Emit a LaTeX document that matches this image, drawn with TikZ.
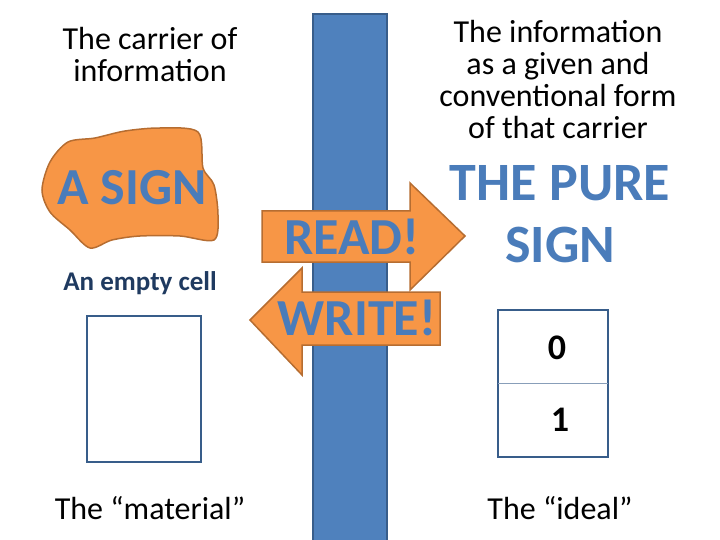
\documentclass[tikz,border=0pt]{standalone}
\usepackage{fontspec}
\setmainfont{Carlito}
\definecolor{barb}{HTML}{4F81BD}
\definecolor{barl}{HTML}{385D8A}
\definecolor{org}{HTML}{F79646}
\definecolor{orgl}{HTML}{B66D31}
\definecolor{txtb}{HTML}{4A7CBA}
\definecolor{dblue}{HTML}{1F3A60}
\begin{document}
\begin{tikzpicture}[x=1pt,y=-1pt,
  big/.style={font=\fontsize{52}{56}\selectfont\bfseries,text=txtb},
  lab/.style={font=\fontsize{32}{32}\selectfont,align=center,text=black},
  box/.style={draw=barl,line width=1.5pt,fill=white}]
\useasboundingbox (0,0) rectangle (720,540);
\node[lab] (carrier) at (150,55) {The carrier of\\information};
\node[lab] (info) at (558,80) {The information\\as a given and\\conventional form\\of that carrier};
\fill[barb,draw=barl,line width=1.5pt] (313,14) rectangle (387,541);
\draw[fill=org,draw=orgl,line width=1.5pt] plot[smooth cycle,tension=0.5] coordinates {(50,162) (68,142) (95,138) (125,131) (160,128) (198,132) (203,168) (214,185) (218,215) (214,240) (180,236) (140,236) (112,240) (90,248) (70,230) (50,212) (42,190)};
\node[big] (asign) at (132,188) {A SIGN};
\node[font=\fontsize{27}{30}\selectfont\bfseries,text=dblue] (empty) at (140,283) {An empty cell};
\draw[box] (87,316) rectangle (201,462);
\draw[fill=org,draw=orgl,line width=1.5pt] (262,211) -- (410,211) -- (410,183) -- (465,236) -- (410,290) -- (410,262) -- (262,262) -- cycle;
\node[big] (read) at (352,237) {READ!};
\draw[fill=org,draw=orgl,line width=1.5pt] (440,292) -- (302,292) -- (302,268) -- (250,320) -- (302,375) -- (302,345) -- (440,345) -- cycle;
\node[big] (write) at (357,318) {WRITE!};
\node[big,align=center,font=\fontsize{54}{62}\selectfont\bfseries] (pure) at (560,214) {THE PURE\\SIGN};
\draw[box] (498,310) rectangle (608,457);
\draw[barl!60,line width=0.8pt] (498,383) -- (608,383);
\node[font=\fontsize{36}{36}\selectfont\bfseries] (zero) at (557,348) {0};
\node[font=\fontsize{36}{36}\selectfont\bfseries] (one) at (560,420) {1};
\node[lab] (mat) at (150,508) {The “material”};
\node[lab] (ideal) at (560,508) {The “ideal”};
\end{tikzpicture}
\end{document}
